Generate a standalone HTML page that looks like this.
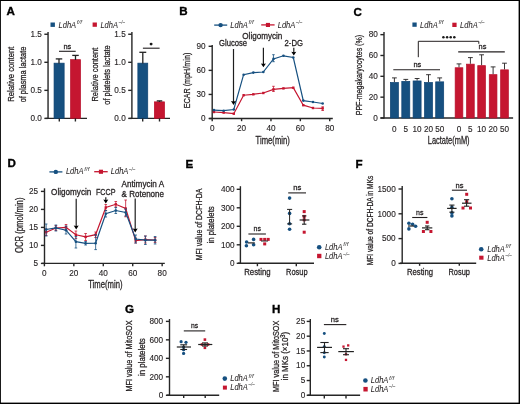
<!DOCTYPE html><html><head><meta charset="utf-8"><style>html,body{margin:0;padding:0;background:#fff;overflow:hidden}#fig{position:relative;width:520px;height:404px;overflow:hidden}svg{display:block;will-change:transform;filter:blur(0.25px)}text{font-family:"Liberation Sans",sans-serif}#bd{position:absolute;left:0;top:0;width:520px;height:404px;box-sizing:border-box}</style></head><body><div id="fig">
<svg width="520" height="404" viewBox="0 0 520 404">
<rect x="0" y="0" width="520" height="404" fill="#fff"/>
<text x="6.6" y="15" font-size="11.6" text-anchor="start" font-weight="bold" font-style="normal" fill="#000" stroke="#000" stroke-width="0.35" >A</text>
<rect x="50.5" y="22.5" width="4.4" height="4.4" fill="#165080"/>
<text x="58.5" y="27.5" font-size="8.6" text-anchor="start" font-weight="normal" font-style="italic" fill="#231f20" textLength="17.6" lengthAdjust="spacingAndGlyphs" stroke="#231f20" stroke-width="0.05" >LdhA</text>
<text x="76.8" y="24.0" font-size="5.2" text-anchor="start" font-weight="normal" font-style="italic" fill="#3a3a3a" textLength="5.2" lengthAdjust="spacingAndGlyphs" stroke="#3a3a3a" stroke-width="0" >f/f</text>
<rect x="92.6" y="22.5" width="4.3" height="4.3" fill="#c51630"/>
<text x="100.4" y="27.5" font-size="8.6" text-anchor="start" font-weight="normal" font-style="italic" fill="#231f20" textLength="17.6" lengthAdjust="spacingAndGlyphs" stroke="#231f20" stroke-width="0.05" >LdhA</text>
<text x="118.7" y="24.0" font-size="5.2" text-anchor="start" font-weight="normal" font-style="italic" fill="#3a3a3a" textLength="6.2" lengthAdjust="spacingAndGlyphs" stroke="#3a3a3a" stroke-width="0" >&#8211;/&#8211;</text>
<line x1="48.05" y1="32" x2="48.05" y2="118.8" stroke="#262626" stroke-width="1.4" />
<line x1="45.55" y1="118.4" x2="87" y2="118.4" stroke="#262626" stroke-width="1.4" />
<line x1="44.349999999999994" y1="118.4" x2="48.05" y2="118.4" stroke="#262626" stroke-width="1.4" />
<text x="41.849999999999994" y="121.2" font-size="8.2" text-anchor="end" font-weight="normal" font-style="normal" fill="#231f20" stroke="#231f20" stroke-width="0.12" >0.0</text>
<line x1="44.349999999999994" y1="90.35000000000001" x2="48.05" y2="90.35000000000001" stroke="#262626" stroke-width="1.4" />
<text x="41.849999999999994" y="93.15" font-size="8.2" text-anchor="end" font-weight="normal" font-style="normal" fill="#231f20" stroke="#231f20" stroke-width="0.12" >0.5</text>
<line x1="44.349999999999994" y1="62.300000000000004" x2="48.05" y2="62.300000000000004" stroke="#262626" stroke-width="1.4" />
<text x="41.849999999999994" y="65.10000000000001" font-size="8.2" text-anchor="end" font-weight="normal" font-style="normal" fill="#231f20" stroke="#231f20" stroke-width="0.12" >1.0</text>
<line x1="44.349999999999994" y1="34.25" x2="48.05" y2="34.25" stroke="#262626" stroke-width="1.4" />
<text x="41.849999999999994" y="37.05" font-size="8.2" text-anchor="end" font-weight="normal" font-style="normal" fill="#231f20" stroke="#231f20" stroke-width="0.12" >1.5</text>
<line x1="131.9" y1="32" x2="131.9" y2="118.8" stroke="#262626" stroke-width="1.4" />
<line x1="129.4" y1="118.4" x2="170" y2="118.4" stroke="#262626" stroke-width="1.4" />
<line x1="128.20000000000002" y1="118.4" x2="131.9" y2="118.4" stroke="#262626" stroke-width="1.4" />
<text x="125.7" y="121.2" font-size="8.2" text-anchor="end" font-weight="normal" font-style="normal" fill="#231f20" stroke="#231f20" stroke-width="0.12" >0.0</text>
<line x1="128.20000000000002" y1="90.35000000000001" x2="131.9" y2="90.35000000000001" stroke="#262626" stroke-width="1.4" />
<text x="125.7" y="93.15" font-size="8.2" text-anchor="end" font-weight="normal" font-style="normal" fill="#231f20" stroke="#231f20" stroke-width="0.12" >0.5</text>
<line x1="128.20000000000002" y1="62.300000000000004" x2="131.9" y2="62.300000000000004" stroke="#262626" stroke-width="1.4" />
<text x="125.7" y="65.10000000000001" font-size="8.2" text-anchor="end" font-weight="normal" font-style="normal" fill="#231f20" stroke="#231f20" stroke-width="0.12" >1.0</text>
<line x1="128.20000000000002" y1="34.25" x2="131.9" y2="34.25" stroke="#262626" stroke-width="1.4" />
<text x="125.7" y="37.05" font-size="8.2" text-anchor="end" font-weight="normal" font-style="normal" fill="#231f20" stroke="#231f20" stroke-width="0.12" >1.5</text>
<rect x="54.050000000000004" y="63.15" width="10.100000000000001" height="55.15" fill="#165080" stroke="#0e4272" stroke-width="0.7"/>
<rect x="70.55" y="59.65" width="10.0" height="58.65" fill="#c51630" stroke="#b80f2a" stroke-width="0.7"/>
<line x1="59.0" y1="58.9" x2="59.0" y2="63.5" stroke="#222" stroke-width="1.3" />
<line x1="55.75" y1="58.9" x2="62.25" y2="58.9" stroke="#222" stroke-width="1.3" />
<line x1="75.5" y1="55.4" x2="75.5" y2="60" stroke="#222" stroke-width="1.3" />
<line x1="72.25" y1="55.4" x2="78.75" y2="55.4" stroke="#222" stroke-width="1.3" />
<line x1="59.3" y1="118.3" x2="59.3" y2="121.5" stroke="#262626" stroke-width="1.4" />
<line x1="75.4" y1="118.3" x2="75.4" y2="121.5" stroke="#262626" stroke-width="1.4" />
<text x="67.3" y="48.6" font-size="8" text-anchor="middle" font-weight="normal" font-style="normal" fill="#231f20" textLength="7.8" lengthAdjust="spacingAndGlyphs" stroke="#231f20" stroke-width="0.28" >ns</text>
<line x1="59" y1="51.3" x2="75.7" y2="51.3" stroke="#231f20" stroke-width="1.1" />
<text transform="translate(13.6,74.2) rotate(-90)" x="0" y="0" font-size="9.5" text-anchor="middle" fill="#231f20" stroke="#231f20" stroke-width="0.28" textLength="55" lengthAdjust="spacingAndGlyphs">Relative content</text>
<text transform="translate(25.8,74.5) rotate(-90)" x="0" y="0" font-size="9.5" text-anchor="middle" fill="#231f20" stroke="#231f20" stroke-width="0.28" textLength="55.7" lengthAdjust="spacingAndGlyphs">of plasma lactate</text>
<rect x="137.85" y="63.15" width="9.9" height="55.15" fill="#165080" stroke="#0e4272" stroke-width="0.7"/>
<rect x="154.35" y="101.85" width="10.200000000000001" height="16.449999999999996" fill="#c51630" stroke="#b80f2a" stroke-width="0.7"/>
<line x1="142.8" y1="52.3" x2="142.8" y2="63.5" stroke="#222" stroke-width="1.3" />
<line x1="139.35000000000002" y1="52.3" x2="146.25" y2="52.3" stroke="#222" stroke-width="1.3" />
<line x1="159.5" y1="100.9" x2="159.5" y2="102" stroke="#222" stroke-width="1.3" />
<line x1="156.75" y1="100.9" x2="162.25" y2="100.9" stroke="#222" stroke-width="1.3" />
<line x1="142.7" y1="118.3" x2="142.7" y2="121.5" stroke="#262626" stroke-width="1.4" />
<line x1="159.5" y1="118.3" x2="159.5" y2="121.5" stroke="#262626" stroke-width="1.4" />
<circle cx="151.1" cy="44.1" r="1.45" fill="#1a1a1a"/>
<line x1="142.9" y1="48.2" x2="159.6" y2="48.2" stroke="#231f20" stroke-width="1.1" />
<text transform="translate(98.2,74.6) rotate(-90)" x="0" y="0" font-size="9.5" text-anchor="middle" fill="#231f20" stroke="#231f20" stroke-width="0.28" textLength="54" lengthAdjust="spacingAndGlyphs">Relative content</text>
<text transform="translate(110.2,75) rotate(-90)" x="0" y="0" font-size="9.5" text-anchor="middle" fill="#231f20" stroke="#231f20" stroke-width="0.28" textLength="59.4" lengthAdjust="spacingAndGlyphs">of platelets lactate</text>
<text x="179.2" y="15.3" font-size="11.6" text-anchor="start" font-weight="bold" font-style="normal" fill="#000" stroke="#000" stroke-width="0.35" >B</text>
<line x1="214.2" y1="25.1" x2="227.2" y2="25.1" stroke="#165080" stroke-width="1.3" />
<circle cx="220.6" cy="25.1" r="2.2" fill="#165080"/>
<text x="230.3" y="27.6" font-size="8.6" text-anchor="start" font-weight="normal" font-style="italic" fill="#231f20" textLength="17.6" lengthAdjust="spacingAndGlyphs" stroke="#231f20" stroke-width="0.05" >LdhA</text>
<text x="248.6" y="24.1" font-size="5.2" text-anchor="start" font-weight="normal" font-style="italic" fill="#3a3a3a" textLength="5.2" lengthAdjust="spacingAndGlyphs" stroke="#3a3a3a" stroke-width="0" >f/f</text>
<line x1="261.2" y1="24.9" x2="274.6" y2="24.9" stroke="#c51630" stroke-width="1.3" />
<rect x="265.9" y="22.9" width="4.1" height="4.1" fill="#c51630"/>
<text x="277.7" y="27.6" font-size="8.6" text-anchor="start" font-weight="normal" font-style="italic" fill="#231f20" textLength="17.6" lengthAdjust="spacingAndGlyphs" stroke="#231f20" stroke-width="0.05" >LdhA</text>
<text x="296.0" y="24.1" font-size="5.2" text-anchor="start" font-weight="normal" font-style="italic" fill="#3a3a3a" textLength="6.2" lengthAdjust="spacingAndGlyphs" stroke="#3a3a3a" stroke-width="0" >&#8211;/&#8211;</text>
<line x1="212.2" y1="45" x2="212.2" y2="119" stroke="#262626" stroke-width="1.4" />
<line x1="209.3" y1="118.5" x2="332.8" y2="118.5" stroke="#262626" stroke-width="1.4" />
<line x1="208.6" y1="118.5" x2="212.2" y2="118.5" stroke="#262626" stroke-width="1.4" />
<text x="205.6" y="121.2" font-size="8.2" text-anchor="end" font-weight="normal" font-style="normal" fill="#231f20" stroke="#231f20" stroke-width="0.12" >0</text>
<line x1="208.6" y1="94.434" x2="212.2" y2="94.434" stroke="#262626" stroke-width="1.4" />
<text x="205.6" y="97.134" font-size="8.2" text-anchor="end" font-weight="normal" font-style="normal" fill="#231f20" stroke="#231f20" stroke-width="0.12" >30</text>
<line x1="208.6" y1="70.368" x2="212.2" y2="70.368" stroke="#262626" stroke-width="1.4" />
<text x="205.6" y="73.068" font-size="8.2" text-anchor="end" font-weight="normal" font-style="normal" fill="#231f20" stroke="#231f20" stroke-width="0.12" >60</text>
<line x1="208.6" y1="46.30199999999999" x2="212.2" y2="46.30199999999999" stroke="#262626" stroke-width="1.4" />
<text x="205.6" y="49.001999999999995" font-size="8.2" text-anchor="end" font-weight="normal" font-style="normal" fill="#231f20" stroke="#231f20" stroke-width="0.12" >90</text>
<line x1="212.2" y1="118.5" x2="212.2" y2="121.2" stroke="#262626" stroke-width="1.4" />
<text x="212.2" y="130.6" font-size="8.2" text-anchor="middle" font-weight="normal" font-style="normal" fill="#231f20" stroke="#231f20" stroke-width="0.12" >0</text>
<line x1="241.57999999999998" y1="118.5" x2="241.57999999999998" y2="121.2" stroke="#262626" stroke-width="1.4" />
<text x="241.57999999999998" y="130.6" font-size="8.2" text-anchor="middle" font-weight="normal" font-style="normal" fill="#231f20" stroke="#231f20" stroke-width="0.12" >20</text>
<line x1="270.96" y1="118.5" x2="270.96" y2="121.2" stroke="#262626" stroke-width="1.4" />
<text x="270.96" y="130.6" font-size="8.2" text-anchor="middle" font-weight="normal" font-style="normal" fill="#231f20" stroke="#231f20" stroke-width="0.12" >40</text>
<line x1="300.34" y1="118.5" x2="300.34" y2="121.2" stroke="#262626" stroke-width="1.4" />
<text x="300.34" y="130.6" font-size="8.2" text-anchor="middle" font-weight="normal" font-style="normal" fill="#231f20" stroke="#231f20" stroke-width="0.12" >60</text>
<line x1="329.72" y1="118.5" x2="329.72" y2="121.2" stroke="#262626" stroke-width="1.4" />
<text x="329.72" y="130.6" font-size="8.2" text-anchor="middle" font-weight="normal" font-style="normal" fill="#231f20" stroke="#231f20" stroke-width="0.12" >80</text>
<text x="255.6" y="143.6" font-size="10" text-anchor="start" font-weight="normal" font-style="normal" fill="#231f20" textLength="34.2" lengthAdjust="spacingAndGlyphs" stroke="#231f20" stroke-width="0.28" >Time(min)</text>
<text transform="translate(189.5,80.5) rotate(-90)" x="0" y="0" font-size="9.8" text-anchor="middle" fill="#231f20" stroke="#231f20" stroke-width="0.28" textLength="55.6" lengthAdjust="spacingAndGlyphs">ECAR (mpH/min)</text>
<polyline points="214.0,112 223.7,112.6 233.8,113.7 243.6,95.2 253.3,94.3 263.3,93 273.5,89.4 283.4,88.4 293.3,87.7 303.3,105.2 313.0,108 322.7,108.4" fill="none" stroke="#c51630" stroke-width="1.2"/>
<rect x="212.7628" y="110.8" width="2.4" height="2.4" fill="#c51630"/>
<rect x="222.4582" y="111.39999999999999" width="2.4" height="2.4" fill="#c51630"/>
<rect x="232.5943" y="112.5" width="2.4" height="2.4" fill="#c51630"/>
<rect x="242.4366" y="94.0" width="2.4" height="2.4" fill="#c51630"/>
<rect x="252.132" y="93.1" width="2.4" height="2.4" fill="#c51630"/>
<rect x="262.1212" y="91.8" width="2.4" height="2.4" fill="#c51630"/>
<rect x="272.2573" y="88.2" width="2.4" height="2.4" fill="#c51630"/>
<rect x="282.2465" y="87.2" width="2.4" height="2.4" fill="#c51630"/>
<rect x="292.0888" y="86.5" width="2.4" height="2.4" fill="#c51630"/>
<rect x="302.07800000000003" y="104.0" width="2.4" height="2.4" fill="#c51630"/>
<rect x="311.7734" y="106.8" width="2.4" height="2.4" fill="#c51630"/>
<rect x="321.46880000000004" y="107.2" width="2.4" height="2.4" fill="#c51630"/>
<line x1="273.4573" y1="86.3" x2="273.4573" y2="91.5" stroke="#c51630" stroke-width="0.8" />
<line x1="272.15729999999996" y1="86.3" x2="274.7573" y2="86.3" stroke="#c51630" stroke-width="0.8" />
<line x1="272.15729999999996" y1="91.5" x2="274.7573" y2="91.5" stroke="#c51630" stroke-width="0.8" />
<line x1="322.66880000000003" y1="106.8" x2="322.66880000000003" y2="110.5" stroke="#c51630" stroke-width="0.8" />
<line x1="321.3688" y1="106.8" x2="323.96880000000004" y2="106.8" stroke="#c51630" stroke-width="0.8" />
<line x1="321.3688" y1="110.5" x2="323.96880000000004" y2="110.5" stroke="#c51630" stroke-width="0.8" />
<polyline points="214.0,110.1 223.7,110.7 233.8,109.5 243.6,74.7 253.3,72.6 263.3,72 273.5,58.9 283.4,55.8 293.3,57.5 303.3,100.6 313.0,102 322.7,103.5" fill="none" stroke="#165080" stroke-width="1.2"/>
<circle cx="213.9628" cy="110.1" r="1.3" fill="#165080"/>
<circle cx="223.6582" cy="110.7" r="1.3" fill="#165080"/>
<circle cx="233.7943" cy="109.5" r="1.3" fill="#165080"/>
<circle cx="243.6366" cy="74.7" r="1.3" fill="#165080"/>
<circle cx="253.332" cy="72.6" r="1.3" fill="#165080"/>
<circle cx="263.3212" cy="72" r="1.3" fill="#165080"/>
<circle cx="273.4573" cy="58.9" r="1.3" fill="#165080"/>
<circle cx="283.4465" cy="55.8" r="1.3" fill="#165080"/>
<circle cx="293.2888" cy="57.5" r="1.3" fill="#165080"/>
<circle cx="303.278" cy="100.6" r="1.3" fill="#165080"/>
<circle cx="312.97339999999997" cy="102" r="1.3" fill="#165080"/>
<circle cx="322.66880000000003" cy="103.5" r="1.3" fill="#165080"/>
<line x1="273.4573" y1="54.7" x2="273.4573" y2="61.7" stroke="#165080" stroke-width="0.8" />
<line x1="272.15729999999996" y1="54.7" x2="274.7573" y2="54.7" stroke="#165080" stroke-width="0.8" />
<line x1="272.15729999999996" y1="61.7" x2="274.7573" y2="61.7" stroke="#165080" stroke-width="0.8" />
<line x1="233.5" y1="49" x2="233.5" y2="102.5" stroke="#1e1e1e" stroke-width="1.2" />
<path d="M231.0,101.1 Q233.5,102.0 236.0,101.1 L233.5,105 Z" fill="#000"/>
<line x1="263.4" y1="47.7" x2="263.4" y2="64.8" stroke="#1e1e1e" stroke-width="1.2" />
<path d="M260.9,63.4 Q263.4,64.3 265.9,63.4 L263.4,67.3 Z" fill="#000"/>
<line x1="293.8" y1="47.7" x2="293.8" y2="53.1" stroke="#1e1e1e" stroke-width="1.2" />
<path d="M291.3,51.7 Q293.8,52.6 296.3,51.7 L293.8,55.6 Z" fill="#000"/>
<text x="219" y="46" font-size="8.8" text-anchor="start" font-weight="normal" font-style="normal" fill="#231f20" textLength="28.1" lengthAdjust="spacingAndGlyphs" stroke="#231f20" stroke-width="0.28" >Glucose</text>
<text x="242.3" y="39.2" font-size="8.8" text-anchor="start" font-weight="normal" font-style="normal" fill="#231f20" textLength="40" lengthAdjust="spacingAndGlyphs" stroke="#231f20" stroke-width="0.28" >Oligomycin</text>
<text x="284.6" y="46.2" font-size="8.8" text-anchor="start" font-weight="normal" font-style="normal" fill="#231f20" textLength="18.4" lengthAdjust="spacingAndGlyphs" stroke="#231f20" stroke-width="0.28" >2-DG</text>
<text x="353.6" y="15.6" font-size="11.6" text-anchor="start" font-weight="bold" font-style="normal" fill="#000" stroke="#000" stroke-width="0.35" >C</text>
<rect x="412.4" y="22.5" width="4.3" height="4.3" fill="#165080"/>
<text x="420.1" y="27.5" font-size="8.6" text-anchor="start" font-weight="normal" font-style="italic" fill="#231f20" textLength="17.6" lengthAdjust="spacingAndGlyphs" stroke="#231f20" stroke-width="0.05" >LdhA</text>
<text x="438.40000000000003" y="24.0" font-size="5.2" text-anchor="start" font-weight="normal" font-style="italic" fill="#3a3a3a" textLength="5.2" lengthAdjust="spacingAndGlyphs" stroke="#3a3a3a" stroke-width="0" >f/f</text>
<rect x="452.3" y="22.7" width="4.3" height="4.3" fill="#c51630"/>
<text x="460.1" y="27.5" font-size="8.6" text-anchor="start" font-weight="normal" font-style="italic" fill="#231f20" textLength="17.6" lengthAdjust="spacingAndGlyphs" stroke="#231f20" stroke-width="0.05" >LdhA</text>
<text x="478.40000000000003" y="24.0" font-size="5.2" text-anchor="start" font-weight="normal" font-style="italic" fill="#3a3a3a" textLength="6.2" lengthAdjust="spacingAndGlyphs" stroke="#3a3a3a" stroke-width="0" >&#8211;/&#8211;</text>
<line x1="384" y1="32" x2="384" y2="118.5" stroke="#262626" stroke-width="1.4" />
<line x1="380.5" y1="118" x2="513.1" y2="118" stroke="#262626" stroke-width="1.4" />
<line x1="380.4" y1="118.0" x2="384" y2="118.0" stroke="#262626" stroke-width="1.4" />
<text x="377.8" y="120.7" font-size="8.2" text-anchor="end" font-weight="normal" font-style="normal" fill="#231f20" stroke="#231f20" stroke-width="0.12" >0</text>
<line x1="380.4" y1="97.16" x2="384" y2="97.16" stroke="#262626" stroke-width="1.4" />
<text x="377.8" y="99.86" font-size="8.2" text-anchor="end" font-weight="normal" font-style="normal" fill="#231f20" stroke="#231f20" stroke-width="0.12" >20</text>
<line x1="380.4" y1="76.32" x2="384" y2="76.32" stroke="#262626" stroke-width="1.4" />
<text x="377.8" y="79.02" font-size="8.2" text-anchor="end" font-weight="normal" font-style="normal" fill="#231f20" stroke="#231f20" stroke-width="0.12" >40</text>
<line x1="380.4" y1="55.48" x2="384" y2="55.48" stroke="#262626" stroke-width="1.4" />
<text x="377.8" y="58.18" font-size="8.2" text-anchor="end" font-weight="normal" font-style="normal" fill="#231f20" stroke="#231f20" stroke-width="0.12" >60</text>
<line x1="380.4" y1="34.64" x2="384" y2="34.64" stroke="#262626" stroke-width="1.4" />
<text x="377.8" y="37.34" font-size="8.2" text-anchor="end" font-weight="normal" font-style="normal" fill="#231f20" stroke="#231f20" stroke-width="0.12" >80</text>
<line x1="394.4" y1="77.9" x2="394.4" y2="82.1" stroke="#231f20" stroke-width="0.9" />
<line x1="392.0" y1="77.9" x2="396.79999999999995" y2="77.9" stroke="#231f20" stroke-width="0.9" />
<rect x="390.4" y="82.44999999999999" width="7.999999999999999" height="35.550000000000004" fill="#165080" stroke="#0e4272" stroke-width="0.7"/>
<text x="394.4" y="131.6" font-size="8.2" text-anchor="middle" font-weight="normal" font-style="normal" fill="#231f20" stroke="#231f20" stroke-width="0.12" >0</text>
<line x1="405.8" y1="79.4" x2="405.8" y2="81" stroke="#231f20" stroke-width="0.9" />
<line x1="403.40000000000003" y1="79.4" x2="408.2" y2="79.4" stroke="#231f20" stroke-width="0.9" />
<rect x="401.8" y="81.35" width="7.999999999999999" height="36.65" fill="#165080" stroke="#0e4272" stroke-width="0.7"/>
<text x="405.8" y="131.6" font-size="8.2" text-anchor="middle" font-weight="normal" font-style="normal" fill="#231f20" stroke="#231f20" stroke-width="0.12" >5</text>
<line x1="417.1" y1="78.5" x2="417.1" y2="80.6" stroke="#231f20" stroke-width="0.9" />
<line x1="414.70000000000005" y1="78.5" x2="419.5" y2="78.5" stroke="#231f20" stroke-width="0.9" />
<rect x="413.1" y="80.94999999999999" width="7.999999999999999" height="37.050000000000004" fill="#165080" stroke="#0e4272" stroke-width="0.7"/>
<text x="417.1" y="131.6" font-size="8.2" text-anchor="middle" font-weight="normal" font-style="normal" fill="#231f20" stroke="#231f20" stroke-width="0.12" >10</text>
<line x1="428.5" y1="74.7" x2="428.5" y2="82.1" stroke="#231f20" stroke-width="0.9" />
<line x1="426.1" y1="74.7" x2="430.9" y2="74.7" stroke="#231f20" stroke-width="0.9" />
<rect x="424.5" y="82.44999999999999" width="7.999999999999999" height="35.550000000000004" fill="#165080" stroke="#0e4272" stroke-width="0.7"/>
<text x="428.5" y="131.6" font-size="8.2" text-anchor="middle" font-weight="normal" font-style="normal" fill="#231f20" stroke="#231f20" stroke-width="0.12" >20</text>
<line x1="439.7" y1="77.9" x2="439.7" y2="81.5" stroke="#231f20" stroke-width="0.9" />
<line x1="437.3" y1="77.9" x2="442.09999999999997" y2="77.9" stroke="#231f20" stroke-width="0.9" />
<rect x="435.7" y="81.85" width="7.999999999999999" height="36.15" fill="#165080" stroke="#0e4272" stroke-width="0.7"/>
<text x="439.7" y="131.6" font-size="8.2" text-anchor="middle" font-weight="normal" font-style="normal" fill="#231f20" stroke="#231f20" stroke-width="0.12" >50</text>
<line x1="459" y1="63.9" x2="459" y2="67.4" stroke="#231f20" stroke-width="0.9" />
<line x1="456.6" y1="63.9" x2="461.4" y2="63.9" stroke="#231f20" stroke-width="0.9" />
<rect x="455.15000000000003" y="67.75" width="7.7" height="50.24999999999999" fill="#c51630" stroke="#b80f2a" stroke-width="0.7"/>
<text x="459" y="131.6" font-size="8.2" text-anchor="middle" font-weight="normal" font-style="normal" fill="#231f20" stroke="#231f20" stroke-width="0.12" >0</text>
<line x1="470.4" y1="57.6" x2="470.4" y2="63.8" stroke="#231f20" stroke-width="0.9" />
<line x1="468.0" y1="57.6" x2="472.79999999999995" y2="57.6" stroke="#231f20" stroke-width="0.9" />
<rect x="466.55" y="64.14999999999999" width="7.7" height="53.85" fill="#c51630" stroke="#b80f2a" stroke-width="0.7"/>
<text x="470.4" y="131.6" font-size="8.2" text-anchor="middle" font-weight="normal" font-style="normal" fill="#231f20" stroke="#231f20" stroke-width="0.12" >5</text>
<line x1="481.6" y1="54.8" x2="481.6" y2="65.3" stroke="#231f20" stroke-width="0.9" />
<line x1="479.20000000000005" y1="54.8" x2="484.0" y2="54.8" stroke="#231f20" stroke-width="0.9" />
<rect x="477.75000000000006" y="65.64999999999999" width="7.7" height="52.35" fill="#c51630" stroke="#b80f2a" stroke-width="0.7"/>
<text x="481.6" y="131.6" font-size="8.2" text-anchor="middle" font-weight="normal" font-style="normal" fill="#231f20" stroke="#231f20" stroke-width="0.12" >10</text>
<line x1="493.1" y1="66.9" x2="493.1" y2="74.3" stroke="#231f20" stroke-width="0.9" />
<line x1="490.70000000000005" y1="66.9" x2="495.5" y2="66.9" stroke="#231f20" stroke-width="0.9" />
<rect x="489.25000000000006" y="74.64999999999999" width="7.7" height="43.35" fill="#c51630" stroke="#b80f2a" stroke-width="0.7"/>
<text x="493.1" y="131.6" font-size="8.2" text-anchor="middle" font-weight="normal" font-style="normal" fill="#231f20" stroke="#231f20" stroke-width="0.12" >20</text>
<line x1="504.5" y1="63.2" x2="504.5" y2="69.5" stroke="#231f20" stroke-width="0.9" />
<line x1="502.1" y1="63.2" x2="506.9" y2="63.2" stroke="#231f20" stroke-width="0.9" />
<rect x="500.65000000000003" y="69.85" width="7.7" height="48.15" fill="#c51630" stroke="#b80f2a" stroke-width="0.7"/>
<text x="504.5" y="131.6" font-size="8.2" text-anchor="middle" font-weight="normal" font-style="normal" fill="#231f20" stroke="#231f20" stroke-width="0.12" >50</text>
<text x="427.8" y="144.0" font-size="10.2" text-anchor="start" font-weight="normal" font-style="normal" fill="#231f20" textLength="41.8" lengthAdjust="spacingAndGlyphs" stroke="#231f20" stroke-width="0.28" >Lactate(mM)</text>
<text transform="translate(362.4,75.1) rotate(-90)" x="0" y="0" font-size="9.5" text-anchor="middle" fill="#231f20" stroke="#231f20" stroke-width="0.28" textLength="80.4" lengthAdjust="spacingAndGlyphs">PPF-megakaryocytes (%)</text>
<line x1="393.3" y1="69.7" x2="440" y2="69.7" stroke="#231f20" stroke-width="1.15" />
<text x="417.4" y="66.7" font-size="8" text-anchor="middle" font-weight="normal" font-style="normal" fill="#231f20" textLength="7.8" lengthAdjust="spacingAndGlyphs" stroke="#231f20" stroke-width="0.28" >ns</text>
<line x1="458.2" y1="51.9" x2="504.8" y2="51.9" stroke="#231f20" stroke-width="1.1" />
<text x="482.5" y="49" font-size="8" text-anchor="middle" font-weight="normal" font-style="normal" fill="#231f20" textLength="7.8" lengthAdjust="spacingAndGlyphs" stroke="#231f20" stroke-width="0.28" >ns</text>
<path d="M418.3,57.2 V41.3 H478.8 V43.8" fill="none" stroke="#231f20" stroke-width="1"/>
<circle cx="443.4" cy="37.2" r="1.25" fill="#1a1a1a"/>
<circle cx="447.1" cy="37.2" r="1.25" fill="#1a1a1a"/>
<circle cx="450.7" cy="37.2" r="1.25" fill="#1a1a1a"/>
<circle cx="454.3" cy="37.2" r="1.25" fill="#1a1a1a"/>
<text x="7.5" y="167.2" font-size="11.6" text-anchor="start" font-weight="bold" font-style="normal" fill="#000" stroke="#000" stroke-width="0.35" >D</text>
<line x1="49.4" y1="171.9" x2="62.4" y2="171.9" stroke="#165080" stroke-width="1.3" />
<circle cx="55.8" cy="171.9" r="2.2" fill="#165080"/>
<text x="65.9" y="174.4" font-size="8.6" text-anchor="start" font-weight="normal" font-style="italic" fill="#231f20" textLength="17.6" lengthAdjust="spacingAndGlyphs" stroke="#231f20" stroke-width="0.05" >LdhA</text>
<text x="84.2" y="170.9" font-size="5.2" text-anchor="start" font-weight="normal" font-style="italic" fill="#3a3a3a" textLength="5.2" lengthAdjust="spacingAndGlyphs" stroke="#3a3a3a" stroke-width="0" >f/f</text>
<line x1="94.2" y1="171.7" x2="107.7" y2="171.7" stroke="#c51630" stroke-width="1.3" />
<rect x="98.9" y="169.7" width="4.1" height="4.1" fill="#c51630"/>
<text x="110.8" y="174.4" font-size="8.6" text-anchor="start" font-weight="normal" font-style="italic" fill="#231f20" textLength="17.6" lengthAdjust="spacingAndGlyphs" stroke="#231f20" stroke-width="0.05" >LdhA</text>
<text x="129.1" y="170.9" font-size="5.2" text-anchor="start" font-weight="normal" font-style="italic" fill="#3a3a3a" textLength="6.2" lengthAdjust="spacingAndGlyphs" stroke="#3a3a3a" stroke-width="0" >&#8211;/&#8211;</text>
<line x1="44.5" y1="188.3" x2="44.5" y2="263.5" stroke="#262626" stroke-width="1.4" />
<line x1="42.1" y1="263.4" x2="164.8" y2="263.4" stroke="#262626" stroke-width="1.4" />
<line x1="40.9" y1="263.4" x2="44.5" y2="263.4" stroke="#262626" stroke-width="1.4" />
<text x="38" y="266.09999999999997" font-size="8.2" text-anchor="end" font-weight="normal" font-style="normal" fill="#231f20" stroke="#231f20" stroke-width="0.12" >5</text>
<line x1="40.9" y1="245.39999999999998" x2="44.5" y2="245.39999999999998" stroke="#262626" stroke-width="1.4" />
<text x="38" y="248.09999999999997" font-size="8.2" text-anchor="end" font-weight="normal" font-style="normal" fill="#231f20" stroke="#231f20" stroke-width="0.12" >10</text>
<line x1="40.9" y1="227.39999999999998" x2="44.5" y2="227.39999999999998" stroke="#262626" stroke-width="1.4" />
<text x="38" y="230.09999999999997" font-size="8.2" text-anchor="end" font-weight="normal" font-style="normal" fill="#231f20" stroke="#231f20" stroke-width="0.12" >15</text>
<line x1="40.9" y1="209.39999999999998" x2="44.5" y2="209.39999999999998" stroke="#262626" stroke-width="1.4" />
<text x="38" y="212.09999999999997" font-size="8.2" text-anchor="end" font-weight="normal" font-style="normal" fill="#231f20" stroke="#231f20" stroke-width="0.12" >20</text>
<line x1="40.9" y1="191.39999999999998" x2="44.5" y2="191.39999999999998" stroke="#262626" stroke-width="1.4" />
<text x="38" y="194.09999999999997" font-size="8.2" text-anchor="end" font-weight="normal" font-style="normal" fill="#231f20" stroke="#231f20" stroke-width="0.12" >25</text>
<line x1="44.4" y1="263.4" x2="44.4" y2="266.3" stroke="#262626" stroke-width="1.4" />
<text x="44.4" y="275.6" font-size="8.2" text-anchor="middle" font-weight="normal" font-style="normal" fill="#231f20" stroke="#231f20" stroke-width="0.12" >0</text>
<line x1="73.84" y1="263.4" x2="73.84" y2="266.3" stroke="#262626" stroke-width="1.4" />
<text x="73.84" y="275.6" font-size="8.2" text-anchor="middle" font-weight="normal" font-style="normal" fill="#231f20" stroke="#231f20" stroke-width="0.12" >20</text>
<line x1="103.28" y1="263.4" x2="103.28" y2="266.3" stroke="#262626" stroke-width="1.4" />
<text x="103.28" y="275.6" font-size="8.2" text-anchor="middle" font-weight="normal" font-style="normal" fill="#231f20" stroke="#231f20" stroke-width="0.12" >40</text>
<line x1="132.72" y1="263.4" x2="132.72" y2="266.3" stroke="#262626" stroke-width="1.4" />
<text x="132.72" y="275.6" font-size="8.2" text-anchor="middle" font-weight="normal" font-style="normal" fill="#231f20" stroke="#231f20" stroke-width="0.12" >60</text>
<line x1="162.16" y1="263.4" x2="162.16" y2="266.3" stroke="#262626" stroke-width="1.4" />
<text x="162.16" y="275.6" font-size="8.2" text-anchor="middle" font-weight="normal" font-style="normal" fill="#231f20" stroke="#231f20" stroke-width="0.12" >80</text>
<text x="88.2" y="288.4" font-size="10" text-anchor="start" font-weight="normal" font-style="normal" fill="#231f20" textLength="34.3" lengthAdjust="spacingAndGlyphs" stroke="#231f20" stroke-width="0.28" >Time(min)</text>
<text transform="translate(23.2,225.3) rotate(-90)" x="0" y="0" font-size="10" text-anchor="middle" fill="#231f20" stroke="#231f20" stroke-width="0.28" textLength="55.5" lengthAdjust="spacingAndGlyphs">OCR (pmol/min)</text>
<polyline points="46.2,232.2 55.9,228 66.0,227.3 75.9,234.8 85.6,236.9 95.6,234.7 105.8,207.5 115.8,204.3 125.7,208.5 135.7,240.6 145.4,239.6 155.1,240" fill="none" stroke="#c51630" stroke-width="1.2"/>
<line x1="46.166399999999996" y1="229" x2="46.166399999999996" y2="235.5" stroke="#c51630" stroke-width="0.8" />
<line x1="44.8664" y1="229" x2="47.46639999999999" y2="229" stroke="#c51630" stroke-width="0.8" />
<line x1="44.8664" y1="235.5" x2="47.46639999999999" y2="235.5" stroke="#c51630" stroke-width="0.8" />
<rect x="44.96639999999999" y="231.0" width="2.4" height="2.4" fill="#c51630"/>
<line x1="55.8816" y1="225.5" x2="55.8816" y2="230.5" stroke="#c51630" stroke-width="0.8" />
<line x1="54.5816" y1="225.5" x2="57.181599999999996" y2="225.5" stroke="#c51630" stroke-width="0.8" />
<line x1="54.5816" y1="230.5" x2="57.181599999999996" y2="230.5" stroke="#c51630" stroke-width="0.8" />
<rect x="54.681599999999996" y="226.8" width="2.4" height="2.4" fill="#c51630"/>
<line x1="66.0384" y1="224.5" x2="66.0384" y2="230" stroke="#c51630" stroke-width="0.8" />
<line x1="64.7384" y1="224.5" x2="67.3384" y2="224.5" stroke="#c51630" stroke-width="0.8" />
<line x1="64.7384" y1="230" x2="67.3384" y2="230" stroke="#c51630" stroke-width="0.8" />
<rect x="64.8384" y="226.10000000000002" width="2.4" height="2.4" fill="#c51630"/>
<line x1="75.9008" y1="231" x2="75.9008" y2="238.5" stroke="#c51630" stroke-width="0.8" />
<line x1="74.6008" y1="231" x2="77.2008" y2="231" stroke="#c51630" stroke-width="0.8" />
<line x1="74.6008" y1="238.5" x2="77.2008" y2="238.5" stroke="#c51630" stroke-width="0.8" />
<rect x="74.7008" y="233.60000000000002" width="2.4" height="2.4" fill="#c51630"/>
<line x1="85.616" y1="233.5" x2="85.616" y2="240.5" stroke="#c51630" stroke-width="0.8" />
<line x1="84.316" y1="233.5" x2="86.916" y2="233.5" stroke="#c51630" stroke-width="0.8" />
<line x1="84.316" y1="240.5" x2="86.916" y2="240.5" stroke="#c51630" stroke-width="0.8" />
<rect x="84.416" y="235.70000000000002" width="2.4" height="2.4" fill="#c51630"/>
<line x1="95.62559999999999" y1="232" x2="95.62559999999999" y2="237.5" stroke="#c51630" stroke-width="0.8" />
<line x1="94.3256" y1="232" x2="96.92559999999999" y2="232" stroke="#c51630" stroke-width="0.8" />
<line x1="94.3256" y1="237.5" x2="96.92559999999999" y2="237.5" stroke="#c51630" stroke-width="0.8" />
<rect x="94.42559999999999" y="233.5" width="2.4" height="2.4" fill="#c51630"/>
<line x1="105.7824" y1="204.5" x2="105.7824" y2="210.5" stroke="#c51630" stroke-width="0.8" />
<line x1="104.4824" y1="204.5" x2="107.08239999999999" y2="204.5" stroke="#c51630" stroke-width="0.8" />
<line x1="104.4824" y1="210.5" x2="107.08239999999999" y2="210.5" stroke="#c51630" stroke-width="0.8" />
<rect x="104.58239999999999" y="206.3" width="2.4" height="2.4" fill="#c51630"/>
<line x1="115.792" y1="201.5" x2="115.792" y2="207" stroke="#c51630" stroke-width="0.8" />
<line x1="114.492" y1="201.5" x2="117.092" y2="201.5" stroke="#c51630" stroke-width="0.8" />
<line x1="114.492" y1="207" x2="117.092" y2="207" stroke="#c51630" stroke-width="0.8" />
<rect x="114.592" y="203.10000000000002" width="2.4" height="2.4" fill="#c51630"/>
<line x1="125.65440000000001" y1="200" x2="125.65440000000001" y2="216.8" stroke="#c51630" stroke-width="0.8" />
<line x1="124.35440000000001" y1="200" x2="126.9544" y2="200" stroke="#c51630" stroke-width="0.8" />
<line x1="124.35440000000001" y1="216.8" x2="126.9544" y2="216.8" stroke="#c51630" stroke-width="0.8" />
<rect x="124.4544" y="207.3" width="2.4" height="2.4" fill="#c51630"/>
<line x1="135.664" y1="238" x2="135.664" y2="243" stroke="#c51630" stroke-width="0.8" />
<line x1="134.36399999999998" y1="238" x2="136.964" y2="238" stroke="#c51630" stroke-width="0.8" />
<line x1="134.36399999999998" y1="243" x2="136.964" y2="243" stroke="#c51630" stroke-width="0.8" />
<rect x="134.464" y="239.4" width="2.4" height="2.4" fill="#c51630"/>
<line x1="145.3792" y1="236" x2="145.3792" y2="243" stroke="#c51630" stroke-width="0.8" />
<line x1="144.0792" y1="236" x2="146.6792" y2="236" stroke="#c51630" stroke-width="0.8" />
<line x1="144.0792" y1="243" x2="146.6792" y2="243" stroke="#c51630" stroke-width="0.8" />
<rect x="144.1792" y="238.4" width="2.4" height="2.4" fill="#c51630"/>
<line x1="155.0944" y1="237.5" x2="155.0944" y2="242.5" stroke="#c51630" stroke-width="0.8" />
<line x1="153.7944" y1="237.5" x2="156.39440000000002" y2="237.5" stroke="#c51630" stroke-width="0.8" />
<line x1="153.7944" y1="242.5" x2="156.39440000000002" y2="242.5" stroke="#c51630" stroke-width="0.8" />
<rect x="153.89440000000002" y="238.8" width="2.4" height="2.4" fill="#c51630"/>
<polyline points="46.2,229.5 55.9,227.8 66.0,230.2 75.9,241.7 85.6,243.3 95.6,243.2 105.8,213.8 115.8,210.5 125.7,212.5 135.7,239 145.4,240.2 155.1,240.2" fill="none" stroke="#165080" stroke-width="1.2"/>
<line x1="46.166399999999996" y1="224" x2="46.166399999999996" y2="236" stroke="#165080" stroke-width="0.8" />
<line x1="44.8664" y1="224" x2="47.46639999999999" y2="224" stroke="#165080" stroke-width="0.8" />
<line x1="44.8664" y1="236" x2="47.46639999999999" y2="236" stroke="#165080" stroke-width="0.8" />
<circle cx="46.166399999999996" cy="229.5" r="1.3" fill="#165080"/>
<line x1="55.8816" y1="225" x2="55.8816" y2="231" stroke="#165080" stroke-width="0.8" />
<line x1="54.5816" y1="225" x2="57.181599999999996" y2="225" stroke="#165080" stroke-width="0.8" />
<line x1="54.5816" y1="231" x2="57.181599999999996" y2="231" stroke="#165080" stroke-width="0.8" />
<circle cx="55.8816" cy="227.8" r="1.3" fill="#165080"/>
<line x1="66.0384" y1="226" x2="66.0384" y2="234" stroke="#165080" stroke-width="0.8" />
<line x1="64.7384" y1="226" x2="67.3384" y2="226" stroke="#165080" stroke-width="0.8" />
<line x1="64.7384" y1="234" x2="67.3384" y2="234" stroke="#165080" stroke-width="0.8" />
<circle cx="66.0384" cy="230.2" r="1.3" fill="#165080"/>
<line x1="75.9008" y1="236.5" x2="75.9008" y2="248" stroke="#165080" stroke-width="0.8" />
<line x1="74.6008" y1="236.5" x2="77.2008" y2="236.5" stroke="#165080" stroke-width="0.8" />
<line x1="74.6008" y1="248" x2="77.2008" y2="248" stroke="#165080" stroke-width="0.8" />
<circle cx="75.9008" cy="241.7" r="1.3" fill="#165080"/>
<line x1="85.616" y1="241.5" x2="85.616" y2="245" stroke="#165080" stroke-width="0.8" />
<line x1="84.316" y1="241.5" x2="86.916" y2="241.5" stroke="#165080" stroke-width="0.8" />
<line x1="84.316" y1="245" x2="86.916" y2="245" stroke="#165080" stroke-width="0.8" />
<circle cx="85.616" cy="243.3" r="1.3" fill="#165080"/>
<line x1="95.62559999999999" y1="234.7" x2="95.62559999999999" y2="249.6" stroke="#165080" stroke-width="0.8" />
<line x1="94.3256" y1="234.7" x2="96.92559999999999" y2="234.7" stroke="#165080" stroke-width="0.8" />
<line x1="94.3256" y1="249.6" x2="96.92559999999999" y2="249.6" stroke="#165080" stroke-width="0.8" />
<circle cx="95.62559999999999" cy="243.2" r="1.3" fill="#165080"/>
<line x1="105.7824" y1="210.5" x2="105.7824" y2="217" stroke="#165080" stroke-width="0.8" />
<line x1="104.4824" y1="210.5" x2="107.08239999999999" y2="210.5" stroke="#165080" stroke-width="0.8" />
<line x1="104.4824" y1="217" x2="107.08239999999999" y2="217" stroke="#165080" stroke-width="0.8" />
<circle cx="105.7824" cy="213.8" r="1.3" fill="#165080"/>
<line x1="115.792" y1="207.5" x2="115.792" y2="213.5" stroke="#165080" stroke-width="0.8" />
<line x1="114.492" y1="207.5" x2="117.092" y2="207.5" stroke="#165080" stroke-width="0.8" />
<line x1="114.492" y1="213.5" x2="117.092" y2="213.5" stroke="#165080" stroke-width="0.8" />
<circle cx="115.792" cy="210.5" r="1.3" fill="#165080"/>
<line x1="125.65440000000001" y1="209" x2="125.65440000000001" y2="216" stroke="#165080" stroke-width="0.8" />
<line x1="124.35440000000001" y1="209" x2="126.9544" y2="209" stroke="#165080" stroke-width="0.8" />
<line x1="124.35440000000001" y1="216" x2="126.9544" y2="216" stroke="#165080" stroke-width="0.8" />
<circle cx="125.65440000000001" cy="212.5" r="1.3" fill="#165080"/>
<line x1="135.664" y1="235" x2="135.664" y2="243" stroke="#165080" stroke-width="0.8" />
<line x1="134.36399999999998" y1="235" x2="136.964" y2="235" stroke="#165080" stroke-width="0.8" />
<line x1="134.36399999999998" y1="243" x2="136.964" y2="243" stroke="#165080" stroke-width="0.8" />
<circle cx="135.664" cy="239" r="1.3" fill="#165080"/>
<line x1="145.3792" y1="236" x2="145.3792" y2="244.5" stroke="#165080" stroke-width="0.8" />
<line x1="144.0792" y1="236" x2="146.6792" y2="236" stroke="#165080" stroke-width="0.8" />
<line x1="144.0792" y1="244.5" x2="146.6792" y2="244.5" stroke="#165080" stroke-width="0.8" />
<circle cx="145.3792" cy="240.2" r="1.3" fill="#165080"/>
<line x1="155.0944" y1="236.5" x2="155.0944" y2="244" stroke="#165080" stroke-width="0.8" />
<line x1="153.7944" y1="236.5" x2="156.39440000000002" y2="236.5" stroke="#165080" stroke-width="0.8" />
<line x1="153.7944" y1="244" x2="156.39440000000002" y2="244" stroke="#165080" stroke-width="0.8" />
<circle cx="155.0944" cy="240.2" r="1.3" fill="#165080"/>
<line x1="76.2" y1="198.7" x2="76.2" y2="226.9" stroke="#1e1e1e" stroke-width="1.2" />
<path d="M73.7,225.5 Q76.2,226.4 78.7,225.5 L76.2,229.4 Z" fill="#000"/>
<line x1="105.8" y1="197.2" x2="105.8" y2="200.9" stroke="#1e1e1e" stroke-width="1.2" />
<path d="M103.3,199.5 Q105.8,200.4 108.3,199.5 L105.8,203.4 Z" fill="#000"/>
<line x1="135.2" y1="198.5" x2="135.2" y2="229.9" stroke="#1e1e1e" stroke-width="1.2" />
<path d="M132.7,228.5 Q135.2,229.4 137.7,228.5 L135.2,232.4 Z" fill="#000"/>
<text x="51.1" y="194.8" font-size="8.8" text-anchor="start" font-weight="normal" font-style="normal" fill="#231f20" textLength="40.2" lengthAdjust="spacingAndGlyphs" stroke="#231f20" stroke-width="0.28" >Oligomycin</text>
<text x="95.9" y="195.4" font-size="8.8" text-anchor="start" font-weight="normal" font-style="normal" fill="#231f20" textLength="19.6" lengthAdjust="spacingAndGlyphs" stroke="#231f20" stroke-width="0.28" >FCCP</text>
<text x="121.6" y="187.3" font-size="8.8" text-anchor="start" font-weight="normal" font-style="normal" fill="#231f20" textLength="42.5" lengthAdjust="spacingAndGlyphs" stroke="#231f20" stroke-width="0.28" >Antimycin A</text>
<text x="121.6" y="196.8" font-size="8.8" text-anchor="start" font-weight="normal" font-style="normal" fill="#231f20" textLength="42.4" lengthAdjust="spacingAndGlyphs" stroke="#231f20" stroke-width="0.28" >&amp; Rotenone</text>
<text x="185.6" y="167.5" font-size="11.6" text-anchor="start" font-weight="bold" font-style="normal" fill="#000" stroke="#000" stroke-width="0.35" >E</text>
<line x1="240.4" y1="186.2" x2="240.4" y2="263.8" stroke="#262626" stroke-width="1.4" />
<line x1="238" y1="263.3" x2="314" y2="263.3" stroke="#262626" stroke-width="1.4" />
<line x1="236.7" y1="263.3" x2="240.4" y2="263.3" stroke="#262626" stroke-width="1.4" />
<text x="234.6" y="266.0" font-size="8.2" text-anchor="end" font-weight="normal" font-style="normal" fill="#231f20" stroke="#231f20" stroke-width="0.12" >0</text>
<line x1="236.7" y1="244.8" x2="240.4" y2="244.8" stroke="#262626" stroke-width="1.4" />
<text x="234.6" y="247.5" font-size="8.2" text-anchor="end" font-weight="normal" font-style="normal" fill="#231f20" stroke="#231f20" stroke-width="0.12" >100</text>
<line x1="236.7" y1="226.3" x2="240.4" y2="226.3" stroke="#262626" stroke-width="1.4" />
<text x="234.6" y="229.0" font-size="8.2" text-anchor="end" font-weight="normal" font-style="normal" fill="#231f20" stroke="#231f20" stroke-width="0.12" >200</text>
<line x1="236.7" y1="207.8" x2="240.4" y2="207.8" stroke="#262626" stroke-width="1.4" />
<text x="234.6" y="210.5" font-size="8.2" text-anchor="end" font-weight="normal" font-style="normal" fill="#231f20" stroke="#231f20" stroke-width="0.12" >300</text>
<line x1="236.7" y1="189.3" x2="240.4" y2="189.3" stroke="#262626" stroke-width="1.4" />
<text x="234.6" y="192.0" font-size="8.2" text-anchor="end" font-weight="normal" font-style="normal" fill="#231f20" stroke="#231f20" stroke-width="0.12" >400</text>
<line x1="257.4" y1="263.3" x2="257.4" y2="266.2" stroke="#262626" stroke-width="1.4" />
<line x1="296.3" y1="263.3" x2="296.3" y2="266.2" stroke="#262626" stroke-width="1.4" />
<text x="257.4" y="275.3" font-size="9.5" text-anchor="middle" font-weight="normal" font-style="normal" fill="#231f20" textLength="26.5" lengthAdjust="spacingAndGlyphs" stroke="#231f20" stroke-width="0.28" >Resting</text>
<text x="296.8" y="275.3" font-size="9.5" text-anchor="middle" font-weight="normal" font-style="normal" fill="#231f20" textLength="21.6" lengthAdjust="spacingAndGlyphs" stroke="#231f20" stroke-width="0.28" >Rosup</text>
<text transform="translate(202.3,224.4) rotate(-90)" x="0" y="0" font-size="9.5" text-anchor="middle" fill="#231f20" stroke="#231f20" stroke-width="0.28" textLength="71.8" lengthAdjust="spacingAndGlyphs">MFI value of DCFH-DA</text>
<text transform="translate(213.7,224.9) rotate(-90)" x="0" y="0" font-size="9.5" text-anchor="middle" fill="#231f20" stroke="#231f20" stroke-width="0.28" textLength="37.2" lengthAdjust="spacingAndGlyphs">in platelets</text>
<line x1="248.4" y1="234" x2="265.9" y2="234" stroke="#231f20" stroke-width="1.1" />
<text x="257.3" y="230.9" font-size="8" text-anchor="middle" font-weight="normal" font-style="normal" fill="#231f20" textLength="7.4" lengthAdjust="spacingAndGlyphs" stroke="#231f20" stroke-width="0.28" >ns</text>
<line x1="288.2" y1="192.9" x2="306" y2="192.9" stroke="#231f20" stroke-width="1.1" />
<text x="297.2" y="190.1" font-size="8" text-anchor="middle" font-weight="normal" font-style="normal" fill="#231f20" textLength="8.1" lengthAdjust="spacingAndGlyphs" stroke="#231f20" stroke-width="0.28" >ns</text>
<circle cx="246.6" cy="242" r="1.8" fill="#165080"/>
<circle cx="246.4" cy="245.7" r="1.8" fill="#165080"/>
<circle cx="253.6" cy="239.4" r="1.8" fill="#165080"/>
<circle cx="253.6" cy="244.8" r="1.8" fill="#165080"/>
<line x1="248" y1="242.9" x2="254.8" y2="242.9" stroke="#222" stroke-width="1.2" />
<rect x="259.5" y="237.9" width="3.0" height="3.0" fill="#c51630"/>
<rect x="263.2" y="237.9" width="3.0" height="3.0" fill="#c51630"/>
<rect x="266.7" y="237.9" width="3.0" height="3.0" fill="#c51630"/>
<rect x="263.2" y="242.4" width="3.0" height="3.0" fill="#c51630"/>
<line x1="261" y1="241" x2="268" y2="241" stroke="#333" stroke-width="1.1" />
<circle cx="289.6" cy="198.1" r="1.8" fill="#165080"/>
<circle cx="289.6" cy="213.4" r="1.8" fill="#165080"/>
<circle cx="289.6" cy="223.8" r="1.8" fill="#165080"/>
<circle cx="289.6" cy="229.3" r="1.8" fill="#165080"/>
<line x1="289.6" y1="209.4" x2="289.6" y2="223.9" stroke="#222" stroke-width="1.0" />
<line x1="287.05" y1="209.4" x2="292.15000000000003" y2="209.4" stroke="#222" stroke-width="1.0" />
<line x1="287.05" y1="223.9" x2="292.15000000000003" y2="223.9" stroke="#222" stroke-width="1.0" />
<rect x="302.7" y="210.1" width="3.0" height="3.0" fill="#c51630"/>
<rect x="302.7" y="214.9" width="3.0" height="3.0" fill="#c51630"/>
<rect x="302.7" y="218.3" width="3.0" height="3.0" fill="#c51630"/>
<rect x="302.7" y="230.7" width="3.0" height="3.0" fill="#c51630"/>
<line x1="304.2" y1="215.9" x2="304.2" y2="224.2" stroke="#222" stroke-width="1.1" />
<line x1="302.0" y1="215.9" x2="306.4" y2="215.9" stroke="#222" stroke-width="1.1" />
<line x1="302.0" y1="224.2" x2="306.4" y2="224.2" stroke="#222" stroke-width="1.1" />
<line x1="299.6" y1="220" x2="309.4" y2="220" stroke="#222" stroke-width="1.2" />
<circle cx="319.2" cy="247.3" r="2.3" fill="#165080"/>
<text x="324.9" y="249.6" font-size="8.6" text-anchor="start" font-weight="normal" font-style="italic" fill="#231f20" textLength="17.6" lengthAdjust="spacingAndGlyphs" stroke="#231f20" stroke-width="0.05" >LdhA</text>
<text x="343.2" y="246.1" font-size="5.2" text-anchor="start" font-weight="normal" font-style="italic" fill="#3a3a3a" textLength="5.2" lengthAdjust="spacingAndGlyphs" stroke="#3a3a3a" stroke-width="0" >f/f</text>
<rect x="317.1" y="253.8" width="4.3" height="4.4" fill="#c51630"/>
<text x="324.9" y="259.0" font-size="8.6" text-anchor="start" font-weight="normal" font-style="italic" fill="#231f20" textLength="17.6" lengthAdjust="spacingAndGlyphs" stroke="#231f20" stroke-width="0.05" >LdhA</text>
<text x="343.2" y="255.5" font-size="5.2" text-anchor="start" font-weight="normal" font-style="italic" fill="#3a3a3a" textLength="6.2" lengthAdjust="spacingAndGlyphs" stroke="#3a3a3a" stroke-width="0" >&#8211;/&#8211;</text>
<text x="355.6" y="167.5" font-size="11.6" text-anchor="start" font-weight="bold" font-style="normal" fill="#000" stroke="#000" stroke-width="0.35" >F</text>
<line x1="402.2" y1="186" x2="402.2" y2="263.7" stroke="#262626" stroke-width="1.4" />
<line x1="400" y1="263.2" x2="476.2" y2="263.2" stroke="#262626" stroke-width="1.4" />
<line x1="398.5" y1="263.4" x2="402.2" y2="263.4" stroke="#262626" stroke-width="1.4" />
<text x="395.7" y="266.09999999999997" font-size="8.2" text-anchor="end" font-weight="normal" font-style="normal" fill="#231f20" stroke="#231f20" stroke-width="0.12" >0</text>
<line x1="398.5" y1="238.59999999999997" x2="402.2" y2="238.59999999999997" stroke="#262626" stroke-width="1.4" />
<text x="395.7" y="241.29999999999995" font-size="8.2" text-anchor="end" font-weight="normal" font-style="normal" fill="#231f20" stroke="#231f20" stroke-width="0.12" >500</text>
<line x1="398.5" y1="213.79999999999998" x2="402.2" y2="213.79999999999998" stroke="#262626" stroke-width="1.4" />
<text x="395.7" y="216.49999999999997" font-size="8.2" text-anchor="end" font-weight="normal" font-style="normal" fill="#231f20" stroke="#231f20" stroke-width="0.12" >1000</text>
<line x1="398.5" y1="189.0" x2="402.2" y2="189.0" stroke="#262626" stroke-width="1.4" />
<text x="395.7" y="191.7" font-size="8.2" text-anchor="end" font-weight="normal" font-style="normal" fill="#231f20" stroke="#231f20" stroke-width="0.12" >1500</text>
<line x1="419.6" y1="263.2" x2="419.6" y2="265.8" stroke="#262626" stroke-width="1.4" />
<line x1="459.3" y1="263.2" x2="459.3" y2="265.8" stroke="#262626" stroke-width="1.4" />
<text x="420" y="275.3" font-size="9.5" text-anchor="middle" font-weight="normal" font-style="normal" fill="#231f20" textLength="26.1" lengthAdjust="spacingAndGlyphs" stroke="#231f20" stroke-width="0.28" >Resting</text>
<text x="459.2" y="275.3" font-size="9.5" text-anchor="middle" font-weight="normal" font-style="normal" fill="#231f20" textLength="21.4" lengthAdjust="spacingAndGlyphs" stroke="#231f20" stroke-width="0.28" >Rosup</text>
<text transform="translate(372.5,220.5) rotate(-90)" x="0" y="0" font-size="9.5" text-anchor="middle" fill="#231f20" stroke="#231f20" stroke-width="0.28" textLength="89.7" lengthAdjust="spacingAndGlyphs">MFI value of DCFH-DA in MKs</text>
<text x="419.7" y="214.8" font-size="8" text-anchor="middle" font-weight="normal" font-style="normal" fill="#231f20" textLength="7.4" lengthAdjust="spacingAndGlyphs" stroke="#231f20" stroke-width="0.28" >ns</text>
<line x1="412.2" y1="217.5" x2="427.4" y2="217.5" stroke="#231f20" stroke-width="1.1" />
<text x="459.5" y="187.6" font-size="8" text-anchor="middle" font-weight="normal" font-style="normal" fill="#231f20" textLength="7.9" lengthAdjust="spacingAndGlyphs" stroke="#231f20" stroke-width="0.28" >ns</text>
<line x1="451.9" y1="190.2" x2="467" y2="190.2" stroke="#231f20" stroke-width="1.1" />
<circle cx="408.9" cy="223.3" r="1.8" fill="#165080"/>
<circle cx="412.6" cy="224.2" r="1.8" fill="#165080"/>
<circle cx="415.6" cy="226.3" r="1.8" fill="#165080"/>
<circle cx="408.9" cy="228.9" r="1.8" fill="#165080"/>
<line x1="408" y1="226" x2="414" y2="226" stroke="#222" stroke-width="1.2" />
<rect x="425.7" y="220.8" width="3.0" height="3.0" fill="#c51630"/>
<rect x="421.9" y="230.0" width="3.0" height="3.0" fill="#c51630"/>
<rect x="429.4" y="230.0" width="3.0" height="3.0" fill="#c51630"/>
<line x1="427.2" y1="226" x2="427.2" y2="229.7" stroke="#222" stroke-width="1.1" />
<line x1="425.0" y1="226" x2="429.4" y2="226" stroke="#222" stroke-width="1.1" />
<line x1="425.0" y1="229.7" x2="429.4" y2="229.7" stroke="#222" stroke-width="1.1" />
<line x1="422" y1="227.9" x2="432.3" y2="227.9" stroke="#222" stroke-width="1.2" />
<circle cx="451.9" cy="198.8" r="1.8" fill="#165080"/>
<circle cx="451.9" cy="207.4" r="1.8" fill="#165080"/>
<circle cx="451.9" cy="212.9" r="1.8" fill="#165080"/>
<circle cx="451.9" cy="215.9" r="1.8" fill="#165080"/>
<line x1="451.9" y1="205.1" x2="451.9" y2="212.2" stroke="#222" stroke-width="1.1" />
<line x1="449.34999999999997" y1="205.1" x2="454.45" y2="205.1" stroke="#222" stroke-width="1.1" />
<line x1="449.34999999999997" y1="212.2" x2="454.45" y2="212.2" stroke="#222" stroke-width="1.1" />
<line x1="447.1" y1="208.4" x2="456.6" y2="208.4" stroke="#222" stroke-width="1.2" />
<rect x="465.2" y="192.8" width="3.0" height="3.0" fill="#c51630"/>
<rect x="465.2" y="200.2" width="3.0" height="3.0" fill="#c51630"/>
<rect x="461.5" y="206.5" width="3.0" height="3.0" fill="#c51630"/>
<rect x="469.0" y="206.5" width="3.0" height="3.0" fill="#c51630"/>
<line x1="466.6" y1="199.7" x2="466.6" y2="206.2" stroke="#222" stroke-width="1.1" />
<line x1="464.0" y1="199.7" x2="469.20000000000005" y2="199.7" stroke="#222" stroke-width="1.1" />
<line x1="464.0" y1="206.2" x2="469.20000000000005" y2="206.2" stroke="#222" stroke-width="1.1" />
<line x1="462" y1="203.2" x2="471.5" y2="203.2" stroke="#222" stroke-width="1.2" />
<circle cx="481.2" cy="249.2" r="2.3" fill="#165080"/>
<text x="487.2" y="251.6" font-size="8.6" text-anchor="start" font-weight="normal" font-style="italic" fill="#231f20" textLength="17.6" lengthAdjust="spacingAndGlyphs" stroke="#231f20" stroke-width="0.05" >LdhA</text>
<text x="505.5" y="248.1" font-size="5.2" text-anchor="start" font-weight="normal" font-style="italic" fill="#3a3a3a" textLength="5.2" lengthAdjust="spacingAndGlyphs" stroke="#3a3a3a" stroke-width="0" >f/f</text>
<rect x="479.2" y="255.7" width="4.3" height="4.0" fill="#c51630"/>
<text x="487.2" y="260.6" font-size="8.6" text-anchor="start" font-weight="normal" font-style="italic" fill="#231f20" textLength="17.6" lengthAdjust="spacingAndGlyphs" stroke="#231f20" stroke-width="0.05" >LdhA</text>
<text x="505.5" y="257.1" font-size="5.2" text-anchor="start" font-weight="normal" font-style="italic" fill="#3a3a3a" textLength="6.2" lengthAdjust="spacingAndGlyphs" stroke="#3a3a3a" stroke-width="0" >&#8211;/&#8211;</text>
<text x="124.9" y="312.5" font-size="11.6" text-anchor="start" font-weight="bold" font-style="normal" fill="#000" stroke="#000" stroke-width="0.35" >G</text>
<line x1="169.5" y1="319" x2="169.5" y2="395.8" stroke="#262626" stroke-width="1.4" />
<line x1="166.7" y1="395.3" x2="219.2" y2="395.3" stroke="#262626" stroke-width="1.4" />
<line x1="165.9" y1="395.3" x2="169.5" y2="395.3" stroke="#262626" stroke-width="1.4" />
<text x="163.2" y="398.0" font-size="8.2" text-anchor="end" font-weight="normal" font-style="normal" fill="#231f20" stroke="#231f20" stroke-width="0.12" >0</text>
<line x1="165.9" y1="376.82" x2="169.5" y2="376.82" stroke="#262626" stroke-width="1.4" />
<text x="163.2" y="379.52" font-size="8.2" text-anchor="end" font-weight="normal" font-style="normal" fill="#231f20" stroke="#231f20" stroke-width="0.12" >200</text>
<line x1="165.9" y1="358.34000000000003" x2="169.5" y2="358.34000000000003" stroke="#262626" stroke-width="1.4" />
<text x="163.2" y="361.04" font-size="8.2" text-anchor="end" font-weight="normal" font-style="normal" fill="#231f20" stroke="#231f20" stroke-width="0.12" >400</text>
<line x1="165.9" y1="339.86" x2="169.5" y2="339.86" stroke="#262626" stroke-width="1.4" />
<text x="163.2" y="342.56" font-size="8.2" text-anchor="end" font-weight="normal" font-style="normal" fill="#231f20" stroke="#231f20" stroke-width="0.12" >600</text>
<line x1="165.9" y1="321.38" x2="169.5" y2="321.38" stroke="#262626" stroke-width="1.4" />
<text x="163.2" y="324.08" font-size="8.2" text-anchor="end" font-weight="normal" font-style="normal" fill="#231f20" stroke="#231f20" stroke-width="0.12" >800</text>
<line x1="183.7" y1="395.3" x2="183.7" y2="398.1" stroke="#262626" stroke-width="1.4" />
<line x1="205.2" y1="395.3" x2="205.2" y2="398.1" stroke="#262626" stroke-width="1.4" />
<text transform="translate(131.9,356) rotate(-90)" x="0" y="0" font-size="9.5" text-anchor="middle" fill="#231f20" stroke="#231f20" stroke-width="0.28" textLength="71" lengthAdjust="spacingAndGlyphs">MFI value of MitoSOX</text>
<text transform="translate(144.6,357.1) rotate(-90)" x="0" y="0" font-size="9.5" text-anchor="middle" fill="#231f20" stroke="#231f20" stroke-width="0.28" textLength="37.8" lengthAdjust="spacingAndGlyphs">in platelets</text>
<text x="194.6" y="327.7" font-size="8" text-anchor="middle" font-weight="normal" font-style="normal" fill="#231f20" textLength="7.2" lengthAdjust="spacingAndGlyphs" stroke="#231f20" stroke-width="0.28" >ns</text>
<line x1="183.8" y1="330.9" x2="205.2" y2="330.9" stroke="#231f20" stroke-width="1.1" />
<circle cx="181.1" cy="341.7" r="1.6" fill="#165080"/>
<circle cx="186" cy="342.3" r="1.6" fill="#165080"/>
<circle cx="183.6" cy="347" r="1.6" fill="#165080"/>
<circle cx="183.6" cy="349.7" r="1.6" fill="#165080"/>
<circle cx="183.6" cy="353.4" r="1.6" fill="#165080"/>
<line x1="183.7" y1="344.8" x2="183.7" y2="349.5" stroke="#222" stroke-width="1.1" />
<line x1="180.29999999999998" y1="344.8" x2="187.1" y2="344.8" stroke="#222" stroke-width="1.1" />
<line x1="180.29999999999998" y1="349.5" x2="187.1" y2="349.5" stroke="#222" stroke-width="1.1" />
<line x1="176.8" y1="347" x2="191" y2="347" stroke="#222" stroke-width="1.2" />
<rect x="203.6" y="338.3" width="2.6" height="2.6" fill="#c51630"/>
<rect x="200.7" y="343.2" width="2.6" height="2.6" fill="#c51630"/>
<rect x="206.7" y="343.2" width="2.6" height="2.6" fill="#c51630"/>
<rect x="203.6" y="346.5" width="2.6" height="2.6" fill="#c51630"/>
<line x1="205" y1="342.9" x2="205" y2="346" stroke="#222" stroke-width="1.1" />
<line x1="202.0" y1="342.9" x2="208.0" y2="342.9" stroke="#222" stroke-width="1.1" />
<line x1="202.0" y1="346" x2="208.0" y2="346" stroke="#222" stroke-width="1.1" />
<line x1="198.2" y1="344.5" x2="212.3" y2="344.5" stroke="#222" stroke-width="1.2" />
<circle cx="224.8" cy="378.6" r="2.3" fill="#165080"/>
<text x="230.2" y="381" font-size="8.6" text-anchor="start" font-weight="normal" font-style="italic" fill="#231f20" textLength="17.6" lengthAdjust="spacingAndGlyphs" stroke="#231f20" stroke-width="0.05" >LdhA</text>
<text x="248.49999999999997" y="377.5" font-size="5.2" text-anchor="start" font-weight="normal" font-style="italic" fill="#3a3a3a" textLength="5.2" lengthAdjust="spacingAndGlyphs" stroke="#3a3a3a" stroke-width="0" >f/f</text>
<rect x="222.9" y="385.6" width="4.0" height="4.0" fill="#c51630"/>
<text x="230.2" y="389.8" font-size="8.6" text-anchor="start" font-weight="normal" font-style="italic" fill="#231f20" textLength="17.6" lengthAdjust="spacingAndGlyphs" stroke="#231f20" stroke-width="0.05" >LdhA</text>
<text x="248.49999999999997" y="386.3" font-size="5.2" text-anchor="start" font-weight="normal" font-style="italic" fill="#3a3a3a" textLength="6.2" lengthAdjust="spacingAndGlyphs" stroke="#3a3a3a" stroke-width="0" >&#8211;/&#8211;</text>
<text x="271.9" y="312.5" font-size="11.6" text-anchor="start" font-weight="bold" font-style="normal" fill="#000" stroke="#000" stroke-width="0.35" >H</text>
<line x1="310.3" y1="319" x2="310.3" y2="395.8" stroke="#262626" stroke-width="1.4" />
<line x1="307.5" y1="395.3" x2="360.1" y2="395.3" stroke="#262626" stroke-width="1.4" />
<line x1="306.7" y1="395.3" x2="310.3" y2="395.3" stroke="#262626" stroke-width="1.4" />
<text x="305.2" y="398.0" font-size="8.2" text-anchor="end" font-weight="normal" font-style="normal" fill="#231f20" stroke="#231f20" stroke-width="0.12" >0</text>
<line x1="306.7" y1="380.52000000000004" x2="310.3" y2="380.52000000000004" stroke="#262626" stroke-width="1.4" />
<text x="305.2" y="383.22" font-size="8.2" text-anchor="end" font-weight="normal" font-style="normal" fill="#231f20" stroke="#231f20" stroke-width="0.12" >5</text>
<line x1="306.7" y1="365.74" x2="310.3" y2="365.74" stroke="#262626" stroke-width="1.4" />
<text x="305.2" y="368.44" font-size="8.2" text-anchor="end" font-weight="normal" font-style="normal" fill="#231f20" stroke="#231f20" stroke-width="0.12" >10</text>
<line x1="306.7" y1="350.96000000000004" x2="310.3" y2="350.96000000000004" stroke="#262626" stroke-width="1.4" />
<text x="305.2" y="353.66" font-size="8.2" text-anchor="end" font-weight="normal" font-style="normal" fill="#231f20" stroke="#231f20" stroke-width="0.12" >15</text>
<line x1="306.7" y1="336.18" x2="310.3" y2="336.18" stroke="#262626" stroke-width="1.4" />
<text x="305.2" y="338.88" font-size="8.2" text-anchor="end" font-weight="normal" font-style="normal" fill="#231f20" stroke="#231f20" stroke-width="0.12" >20</text>
<line x1="306.7" y1="321.4" x2="310.3" y2="321.4" stroke="#262626" stroke-width="1.4" />
<text x="305.2" y="324.09999999999997" font-size="8.2" text-anchor="end" font-weight="normal" font-style="normal" fill="#231f20" stroke="#231f20" stroke-width="0.12" >25</text>
<line x1="324.3" y1="395.3" x2="324.3" y2="398.6" stroke="#262626" stroke-width="1.4" />
<line x1="346" y1="395.3" x2="346" y2="398.6" stroke="#262626" stroke-width="1.4" />
<text transform="translate(279.2,356.3) rotate(-90)" x="0" y="0" font-size="9.5" text-anchor="middle" fill="#231f20" stroke="#231f20" stroke-width="0.28" textLength="71.4" lengthAdjust="spacingAndGlyphs">MFI value of MitoSOX</text>
<text transform="translate(288.3,356.1) rotate(-90)" x="0" y="0" font-size="9.5" text-anchor="middle" fill="#231f20" stroke="#231f20" stroke-width="0.28" textLength="48.5" lengthAdjust="spacingAndGlyphs">in MKs (&#215;10<tspan dy="-3.2" font-size="6.8">3</tspan><tspan dy="3.2">)</tspan></text>
<text x="334.7" y="322" font-size="8" text-anchor="middle" font-weight="normal" font-style="normal" fill="#231f20" textLength="8.1" lengthAdjust="spacingAndGlyphs" stroke="#231f20" stroke-width="0.28" >ns</text>
<line x1="323.9" y1="324.6" x2="346.3" y2="324.6" stroke="#231f20" stroke-width="1.1" />
<circle cx="324.3" cy="333.5" r="1.45" fill="#165080"/>
<circle cx="324.3" cy="346.6" r="1.45" fill="#165080"/>
<circle cx="324.3" cy="352.8" r="1.45" fill="#165080"/>
<circle cx="324.3" cy="357" r="1.45" fill="#165080"/>
<line x1="324.5" y1="342.5" x2="324.5" y2="352.6" stroke="#222" stroke-width="1.1" />
<line x1="320.35" y1="342.5" x2="328.65" y2="342.5" stroke="#222" stroke-width="1.1" />
<line x1="320.35" y1="352.6" x2="328.65" y2="352.6" stroke="#222" stroke-width="1.1" />
<line x1="317.1" y1="347.4" x2="332" y2="347.4" stroke="#222" stroke-width="1.2" />
<rect x="342.35" y="345.45000000000005" width="2.3" height="2.3" fill="#c51630"/>
<rect x="347.05" y="344.25" width="2.3" height="2.3" fill="#c51630"/>
<rect x="344.85" y="353.15000000000003" width="2.3" height="2.3" fill="#c51630"/>
<rect x="344.85" y="358.75" width="2.3" height="2.3" fill="#c51630"/>
<line x1="346" y1="348.7" x2="346" y2="354.7" stroke="#222" stroke-width="1.1" />
<line x1="343.0" y1="348.7" x2="349.0" y2="348.7" stroke="#222" stroke-width="1.1" />
<line x1="343.0" y1="354.7" x2="349.0" y2="354.7" stroke="#222" stroke-width="1.1" />
<line x1="338.3" y1="351.6" x2="353.9" y2="351.6" stroke="#222" stroke-width="1.2" />
<circle cx="365.4" cy="380.5" r="2.3" fill="#165080"/>
<text x="370.8" y="383.3" font-size="8.6" text-anchor="start" font-weight="normal" font-style="italic" fill="#231f20" textLength="17.6" lengthAdjust="spacingAndGlyphs" stroke="#231f20" stroke-width="0.05" >LdhA</text>
<text x="389.1" y="379.8" font-size="5.2" text-anchor="start" font-weight="normal" font-style="italic" fill="#3a3a3a" textLength="5.2" lengthAdjust="spacingAndGlyphs" stroke="#3a3a3a" stroke-width="0" >f/f</text>
<rect x="363.4" y="386.9" width="4.3" height="4.6" fill="#c51630"/>
<text x="370.8" y="391.6" font-size="8.6" text-anchor="start" font-weight="normal" font-style="italic" fill="#231f20" textLength="17.6" lengthAdjust="spacingAndGlyphs" stroke="#231f20" stroke-width="0.05" >LdhA</text>
<text x="389.1" y="388.1" font-size="5.2" text-anchor="start" font-weight="normal" font-style="italic" fill="#3a3a3a" textLength="6.2" lengthAdjust="spacingAndGlyphs" stroke="#3a3a3a" stroke-width="0" >&#8211;/&#8211;</text>
</svg>
<svg id="bd" width="520" height="404" style="filter:none">
<rect x="0" y="0" width="520" height="1" fill="#000"/>
<rect x="0" y="0" width="0.9" height="404" fill="#000"/>
<rect x="518.6" y="0" width="1.4" height="404" fill="#000"/>
<rect x="0" y="402.6" width="520" height="1.4" fill="#000"/>
</svg></div></body></html>
